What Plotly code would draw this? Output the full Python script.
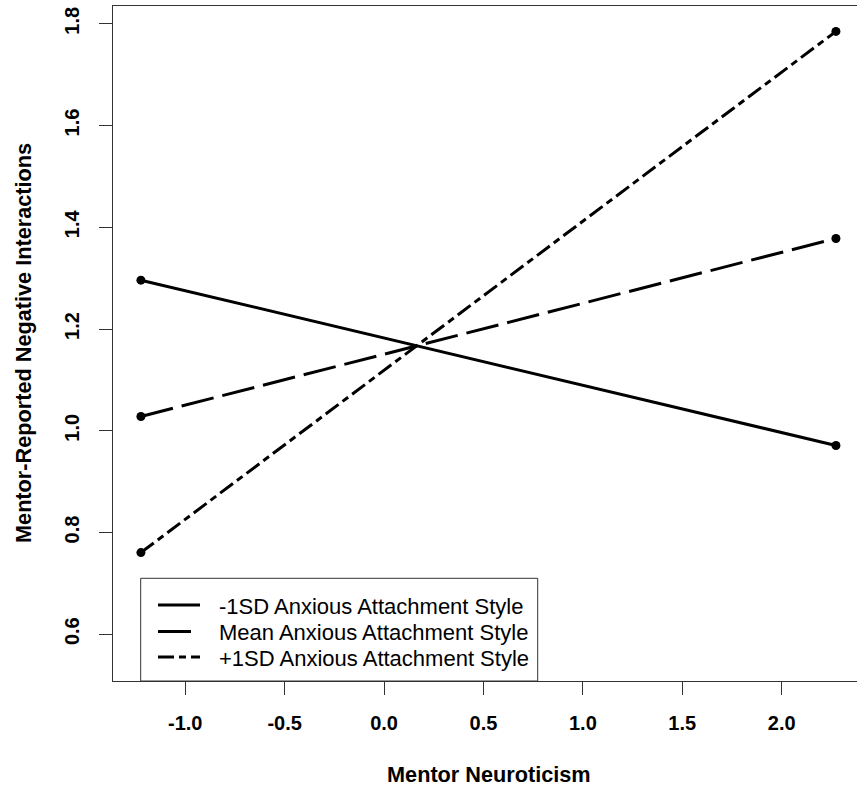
import plotly.graph_objects as go

# ---- data ----
neuroticism = [-1.223, 2.273]
low_anxious = [1.296, 0.971]     # -1SD
mean_anxious = [1.028, 1.378]    # Mean
high_anxious = [0.7605, 1.785]   # +1SD
series_names = [
    "-1SD Anxious Attachment Style",
    "Mean Anxious Attachment Style",
    "+1SD Anxious Attachment Style",
]
x_ticks = [-1.0, -0.5, 0.0, 0.5, 1.0, 1.5, 2.0]
x_tick_labels = ["-1.0", "-0.5", "0.0", "0.5", "1.0", "1.5", "2.0"]
y_ticks = [0.6, 0.8, 1.0, 1.2, 1.4, 1.6, 1.8]
y_tick_labels = ["0.6", "0.8", "1.0", "1.2", "1.4", "1.6", "1.8"]
x_title = "Mentor Neuroticism"
y_title = "Mentor-Reported Negative Interactions"

# ---- styles ----
W, H = 857, 789
ML, MR, MT, MB = 113, 0, 6, 108
PW, PH = W - ML - MR, H - MT - MB
FONT = "Liberation Sans, Arial, Helvetica, sans-serif"
dashes = ["solid", "33px,9px", "16px,5px,7px,5px"]
series = [low_anxious, mean_anxious, high_anxious]


def px_x(p):
    return (p - ML) / PW


def px_y(p):
    return (MT + PH - p) / PH


fig = go.Figure()
for name, vals, dash in zip(series_names, series, dashes):
    fig.add_trace(go.Scatter(
        x=neuroticism, y=vals, name=name, mode="lines+markers",
        line=dict(color="black", width=3, dash=dash),
        marker=dict(color="black", size=9),
        showlegend=False,
    ))

axis_common = dict(
    showgrid=False, zeroline=False, showline=True, linecolor="#333",
    linewidth=1, ticks="outside", ticklen=13, tickcolor="#333",
    tickwidth=1, tickfont=dict(family=FONT, size=20, color="black", weight="bold"),
)
fig.update_xaxes(range=[-1.3635, 2.379], tickvals=x_ticks, ticktext=x_tick_labels,
                 mirror=True, ticklabelstandoff=11, **axis_common)
fig.update_yaxes(range=[0.508, 1.835], tickvals=y_ticks, ticktext=y_tick_labels,
                 tickangle=-90, ticklabelstandoff=12, **axis_common)

shapes = []
annotations = []
# legend box
shapes.append(dict(type="rect", xref="paper", yref="paper",
                   x0=px_x(140.7), x1=px_x(537.7), y0=px_y(681), y1=px_y(578.3),
                   line=dict(color="#333", width=1), fillcolor="white", layer="above"))
row_y = [605, 631.5, 657]
for name, dash, ry in zip(series_names, dashes, row_y):
    shapes.append(dict(type="line", xref="paper", yref="paper",
                       x0=px_x(158), x1=px_x(200), y0=px_y(ry), y1=px_y(ry),
                       line=dict(color="black", width=3, dash=dash), layer="above"))
    annotations.append(dict(text=name, xref="paper", yref="paper",
                            x=px_x(217), y=px_y(ry + 1), xanchor="left", yanchor="middle",
                            showarrow=False, font=dict(family=FONT, size=22, color="black")))

annotations.append(dict(text="<b>%s</b>" % x_title, xref="paper", yref="paper",
                        x=px_x(488.7), y=px_y(774), xanchor="center", yanchor="middle",
                        showarrow=False, font=dict(family=FONT, size=21.7, color="black")))
annotations.append(dict(text="<b>%s</b>" % y_title, xref="paper", yref="paper",
                        x=px_x(23), y=px_y(343), xanchor="center", yanchor="middle",
                        textangle=-90, showarrow=False,
                        font=dict(family=FONT, size=21.7, color="black")))

fig.update_layout(
    width=W, height=H,
    margin=dict(l=ML, r=MR, t=MT, b=MB, pad=0),
    plot_bgcolor="white", paper_bgcolor="white",
    shapes=shapes, annotations=annotations,
    showlegend=False,
    font=dict(family=FONT, color="black"),
)

fig.write_html("out.html", config={"displayModeBar": False},
               post_script="document.body.style.margin='0px';document.body.style.overflow='hidden';")
